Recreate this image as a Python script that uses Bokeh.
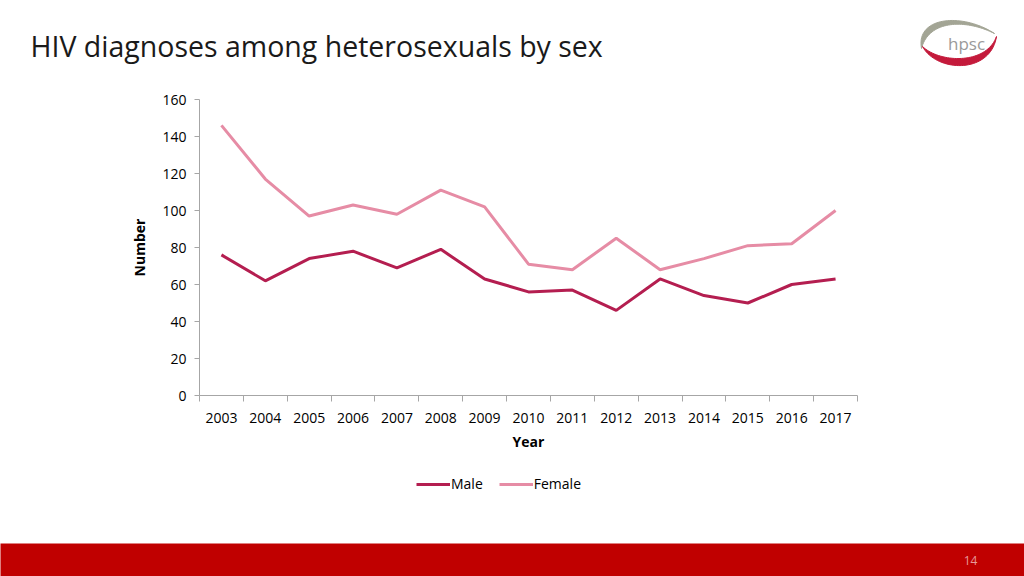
import numpy as np
from bokeh.plotting import figure
from bokeh.models import Range1d, FixedTicker, Legend, LegendItem
from bokeh.core.properties import value
from bokeh.embed import file_html
from bokeh.resources import INLINE

# ---------------- data ----------------
years = ["2003", "2004", "2005", "2006", "2007", "2008", "2009", "2010",
         "2011", "2012", "2013", "2014", "2015", "2016", "2017"]
male = [76, 62, 74, 78, 69, 79, 63, 56, 57, 46, 63, 54, 50, 60, 63]
female = [146, 117, 97, 103, 98, 111, 102, 71, 68, 85, 68, 74, 81, 82, 100]
y_ticks = [0, 20, 40, 60, 80, 100, 120, 140, 160]
series_names = ["Male", "Female"]

title_text = "HIV diagnoses among heterosexuals by sex"
page_number = "14"

MALE_C = "#B41E50"
FEMALE_C = "#E68CA5"
AXIS_C = "#A6A6A6"
FONT = "Open Sans"

W = 1024


def blank(fig):
    fig.axis.visible = False
    fig.grid.visible = False
    fig.outline_line_color = None


# ---------------- header ----------------
HH = 88
hdr = figure(width=W, height=HH, x_range=Range1d(0, W), y_range=Range1d(HH, 0),
             output_backend="svg", toolbar_location=None, min_border=0)
blank(hdr)
hdr.text(x=[30], y=[45], text=[title_text], text_font=value(FONT),
         text_font_size="28.5px", text_color="#1a1a1a", text_baseline="middle",
         text_align="left")


def bez(p0, p1, p2, p3, n=40):
    t = np.linspace(0, 1, n)
    x = (1 - t) ** 3 * p0[0] + 3 * (1 - t) ** 2 * t * p1[0] + 3 * (1 - t) * t ** 2 * p2[0] + t ** 3 * p3[0]
    y = (1 - t) ** 3 * p0[1] + 3 * (1 - t) ** 2 * t * p1[1] + 3 * (1 - t) * t ** 2 * p2[1] + t ** 3 * p3[1]
    return list(x), list(y)


def band(outer, inner):
    ox, oy = bez(*outer)
    ix, iy = bez(*inner)
    return ox + ix, oy + iy


gx, gy = band(((921, 48), (915, 16), (962, 12), (994, 33)),
              ((994, 33), (964, 18), (928, 20), (921, 48)))
rx, ry = band(((922, 46), (936, 72), (990, 74), (996, 36)),
              ((996, 36), (986, 64), (940, 63), (922, 46)))
hdr.patch(gx, gy, fill_color="#A3A595", line_color="#A3A595", line_width=1)
hdr.patch(rx, ry, fill_color="#C41A3B", line_color="#C41A3B", line_width=1)
hdr.text(x=[966], y=[43], text=["hpsc"], text_font=value(FONT),
         text_font_size="17px", text_color="#9A9A9A", text_baseline="middle",
         text_align="center")

# ---------------- main chart ----------------
n = len(years)
xs = [i + 0.5 for i in range(n)]

p = figure(frame_width=658, frame_height=296, x_range=Range1d(0, n), y_range=Range1d(0, 160),
           output_backend="svg", toolbar_location=None,
           min_border_left=199, min_border_right=167, min_border_top=11,
           min_border_bottom=70)
p.outline_line_color = None
p.grid.visible = False

p.line(xs, male, line_color=MALE_C, line_width=3)
p.line(xs, female, line_color=FEMALE_C, line_width=3)

xa = p.xaxis[0]
xa.ticker = FixedTicker(ticks=xs, minor_ticks=list(range(n + 1)))
xa.major_label_overrides = {x: y for x, y in zip(xs, years)}
xa.major_tick_out = 0
xa.major_tick_in = 0
xa.minor_tick_out = 6
xa.minor_tick_in = 0
xa.minor_tick_line_color = AXIS_C
xa.axis_line_color = AXIS_C
xa.major_label_standoff = 11
xa.major_label_text_font = FONT
xa.major_label_text_font_size = "14px"
xa.major_label_text_color = "#000000"
xa.axis_label = "Year"
xa.axis_label_text_font = FONT
xa.axis_label_text_font_size = "14px"
xa.axis_label_text_font_style = "bold"
xa.axis_label_text_color = "#000000"
xa.axis_label_standoff = 6

ya = p.yaxis[0]
ya.ticker = FixedTicker(ticks=y_ticks)
ya.minor_tick_out = 0
ya.minor_tick_in = 0
ya.major_tick_out = 5
ya.major_tick_in = 0
ya.major_tick_line_color = AXIS_C
ya.axis_line_color = AXIS_C
ya.major_label_standoff = 8
ya.major_label_text_font = FONT
ya.major_label_text_font_size = "14px"
ya.major_label_text_color = "#000000"
ya.axis_label = "Number"
ya.axis_label_text_font = FONT
ya.axis_label_text_font_size = "14px"
ya.axis_label_text_font_style = "bold"
ya.axis_label_text_color = "#000000"
ya.axis_label_standoff = 10

# ---------------- legend strip ----------------
LH = 543 - (HH + 11 + 296 + 70)
lg = figure(width=W, height=LH, x_range=Range1d(-100, -99), y_range=Range1d(-100, -99),
            output_backend="svg", toolbar_location=None, min_border=0)
blank(lg)
# same series, out of this strip's view: only their legend swatches show
r_m = lg.line(xs, male, line_color=MALE_C, line_width=3)
r_f = lg.line(xs, female, line_color=FEMALE_C, line_width=3)
legend = Legend(items=[LegendItem(label=series_names[0], renderers=[r_m]),
                       LegendItem(label=series_names[1], renderers=[r_f])],
                orientation="horizontal", location=(416, LH - 15 - 13),
                border_line_color=None, background_fill_alpha=0,
                label_text_font=FONT, label_text_font_size="14px",
                label_text_color="#000000", glyph_width=34, glyph_height=14,
                label_standoff=1, spacing=16, padding=4, margin=0)
lg.add_layout(legend)

# ---------------- footer ----------------
FH = 576 - 543
ftr = figure(width=W, height=FH, x_range=Range1d(0, W), y_range=Range1d(FH, 0),
             output_backend="svg", toolbar_location=None, min_border=0,
             background_fill_color="#C00000", border_fill_color="#C00000")
blank(ftr)
ftr.text(x=[970], y=[17], text=[page_number], text_font=value(FONT),
         text_font_size="12px", text_color="#E79A9A", text_baseline="middle",
         text_align="center")

open("out.html", "w").write(file_html([hdr, p, lg, ftr], INLINE))
